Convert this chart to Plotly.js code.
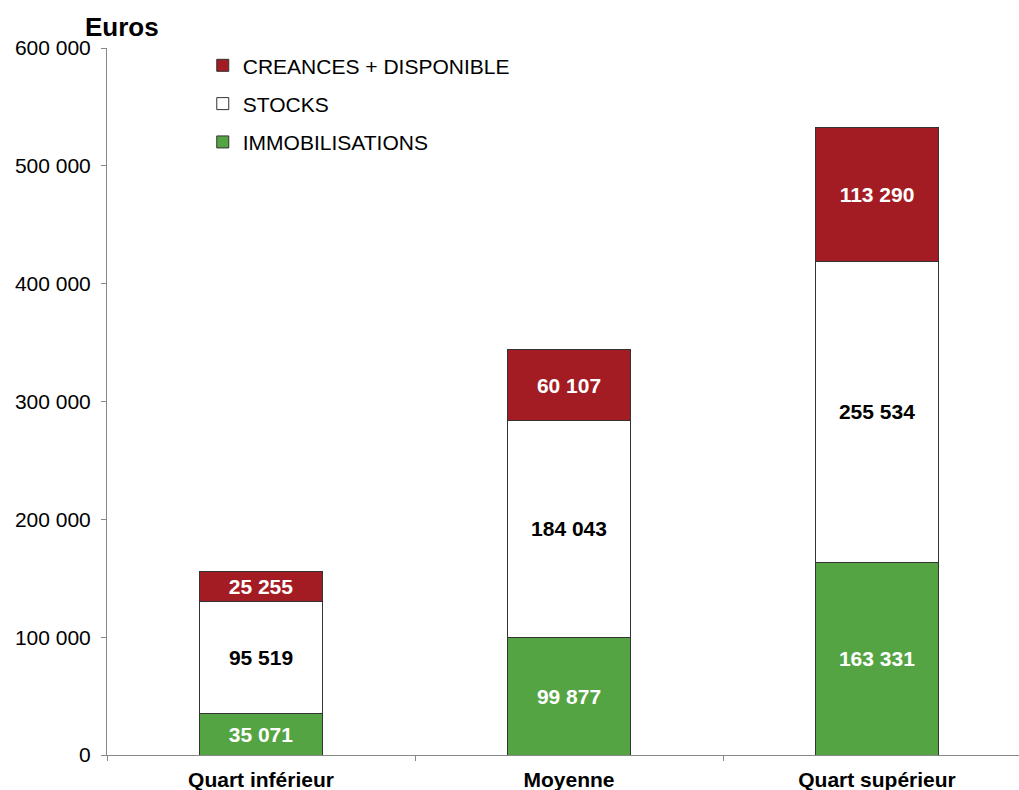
<!DOCTYPE html>
<html><head><meta charset="utf-8">
<script src="https://cdn.plot.ly/plotly-3.0.1.min.js"></script>
<style>body{margin:0;background:#fff}#c{width:1019px;height:790px}</style>
</head><body><div id="c"></div>
<script>
const categories = ["Quart inférieur", "Moyenne", "Quart supérieur"];
const immobilisations = [35071, 99877, 163331];
const stocks = [95519, 184043, 255534];
const creances = [25255, 60107, 113290];
const yTicks = [0, 100000, 200000, 300000, 400000, 500000, 600000];

const FONT = '"Liberation Sans", Arial, sans-serif';
const common = {
  type: 'bar', x: categories, width: 0.4,
  textposition: 'inside', insidetextanchor: 'middle', constraintext: 'none', textangle: 0,
  texttemplate: '%{y:,}', hoverinfo: 'skip'
};
const traces = [
  Object.assign({}, common, {name: 'IMMOBILISATIONS', y: immobilisations, legendgroup: 'c', legendrank: 3,
    marker: {color: '#55A443', line: {color: '#333', width: 1}},
    textfont: {color: '#fff', size: 21, weight: 'bold', family: FONT}}),
  Object.assign({}, common, {name: 'STOCKS', y: stocks, legendgroup: 'b', legendrank: 2,
    marker: {color: '#ffffff', line: {color: '#333', width: 1}},
    textfont: {color: '#000', size: 21, weight: 'bold', family: FONT}}),
  Object.assign({}, common, {name: 'CREANCES + DISPONIBLE', y: creances, legendgroup: 'a', legendrank: 1,
    marker: {color: '#A41C23', line: {color: '#333', width: 1}},
    textfont: {color: '#fff', size: 21, weight: 'bold', family: FONT}})
];
const layout = {
  width: 1019, height: 790,
  margin: {l: 107, r: 0, t: 48, b: 35},
  paper_bgcolor: '#fff', plot_bgcolor: '#fff',
  font: {family: FONT, size: 21, color: '#000'},
  barmode: 'stack', separators: ', ',
  showlegend: true,
  legend: {x: 0.105, y: 1.004, xanchor: 'left', yanchor: 'top', traceorder: 'grouped',
    tracegroupgap: 8, font: {size: 21, family: FONT}, bgcolor: 'rgba(0,0,0,0)', itemwidth: 30},
  xaxis: {range: [-0.5, 2.461], showline: true, linecolor: '#888', linewidth: 1,
    ticks: 'outside', ticklen: 5, tickcolor: '#888', tickmode: 'array',
    tickvals: [-0.5, 0.5, 1.5], ticktext: ['', '', ''], showgrid: false, zeroline: false, fixedrange: true},
  xaxis2: {overlaying: 'x', matches: 'x', range: [-0.5, 2.461], showline: false, ticks: '',
    tickfont: {size: 21, weight: 'bold', family: FONT}, showgrid: false, zeroline: false, side: 'bottom',
    tickmode: 'array', tickvals: [0, 1, 2], ticktext: categories, anchor: 'y', ticklabelstandoff: 10},
  yaxis: {range: [0, 600000], tickvals: yTicks, tickformat: ',', showline: true, linecolor: '#888',
    linewidth: 1, ticks: 'outside', ticklen: 5, tickcolor: '#888', showgrid: false, zeroline: false,
    tickfont: {size: 21, family: FONT}, ticklabelstandoff: 6},
  annotations: [{text: '<b>Euros</b>', xref: 'paper', yref: 'paper', x: 0.016, y: 1.0, yshift: 21,
    xanchor: 'center', yanchor: 'middle', showarrow: false, font: {size: 26, family: FONT, color: '#000'}}]
};
traces.push({type: 'scatter', x: categories, y: [0, 0, 0], xaxis: 'x2', mode: 'none', showlegend: false, hoverinfo: 'skip'});
Plotly.newPlot('c', traces, layout, {displayModeBar: false, staticPlot: true});
</script></body></html>
